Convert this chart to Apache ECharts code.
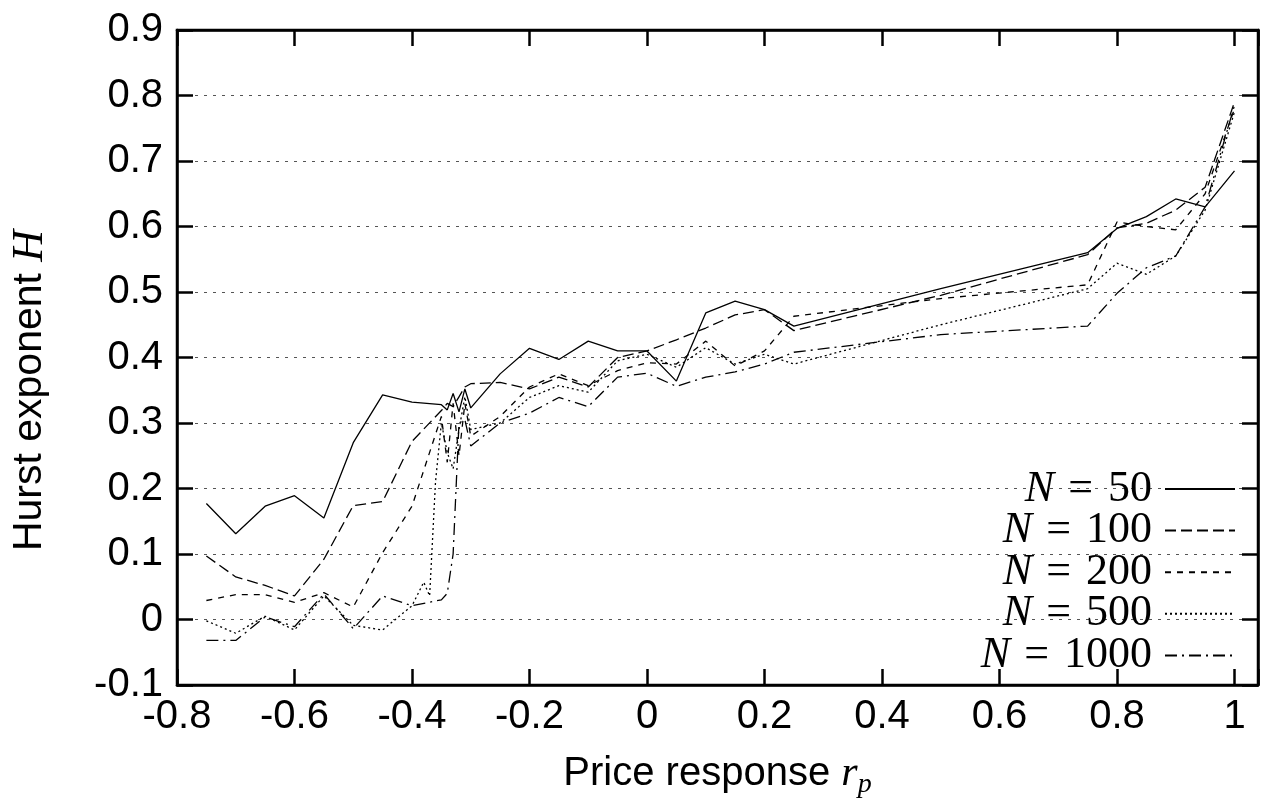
<!DOCTYPE html>
<html><head><meta charset="utf-8">
<script src="https://cdn.jsdelivr.net/npm/echarts@6/dist/echarts.min.js"></script>
<style>html,body{margin:0;padding:0;background:#fff}#c{width:1264px;height:804px}</style>
</head><body><div id="c"></div>
<script>
// ---- data ----
const xN50 = [-0.75,-0.7,-0.65,-0.6,-0.55,-0.5,-0.45,-0.4,-0.35,-0.34,-0.33,-0.32,-0.31,-0.3,-0.25,-0.2,-0.15,-0.1,-0.05,0,0.05,0.1,0.15,0.2,0.25,0.5,0.75,0.8,0.85,0.9,0.95,1.0];
const yN50 = [0.177,0.131,0.173,0.189,0.155,0.27,0.343,0.332,0.328,0.320,0.345,0.317,0.352,0.323,0.375,0.414,0.397,0.425,0.41,0.41,0.364,0.468,0.486,0.473,0.448,0.505,0.560,0.597,0.615,0.642,0.630,0.685];
const xN100 = [-0.75,-0.7,-0.65,-0.6,-0.55,-0.5,-0.45,-0.4,-0.35,-0.34,-0.33,-0.32,-0.31,-0.3,-0.25,-0.2,-0.15,-0.1,-0.05,0,0.05,0.1,0.15,0.2,0.25,0.5,0.75,0.8,0.85,0.9,0.95,1.0];
const yN100 = [0.097,0.065,0.052,0.036,0.092,0.174,0.18,0.272,0.319,0.33,0.325,0.34,0.355,0.36,0.362,0.352,0.37,0.355,0.40,0.41,0.427,0.445,0.465,0.473,0.441,0.495,0.557,0.598,0.605,0.625,0.66,0.79];
const xN200 = [-0.75,-0.7,-0.65,-0.6,-0.55,-0.5,-0.45,-0.4,-0.35,-0.34,-0.33,-0.32,-0.31,-0.3,-0.25,-0.2,-0.15,-0.1,-0.05,0,0.05,0.1,0.15,0.2,0.25,0.5,0.75,0.8,0.85,0.9,0.95,1.0];
const yN200 = [0.029,0.038,0.038,0.026,0.041,0.019,0.102,0.173,0.31,0.24,0.33,0.25,0.33,0.28,0.31,0.355,0.375,0.357,0.38,0.392,0.39,0.425,0.387,0.41,0.463,0.49,0.511,0.607,0.6,0.595,0.65,0.78];
const xN500 = [-0.75,-0.7,-0.65,-0.6,-0.55,-0.5,-0.45,-0.4,-0.38,-0.37,-0.36,-0.35,-0.34,-0.33,-0.32,-0.31,-0.3,-0.25,-0.2,-0.15,-0.1,-0.05,0,0.05,0.1,0.15,0.2,0.25,0.5,0.75,0.8,0.85,0.9,0.95,1.0];
const yN500 = [-0.002,-0.021,0.005,-0.016,0.036,-0.009,-0.016,0.021,0.057,0.036,0.21,0.30,0.255,0.23,0.29,0.34,0.29,0.30,0.339,0.357,0.347,0.395,0.405,0.385,0.415,0.39,0.405,0.39,0.45,0.505,0.544,0.527,0.555,0.625,0.775];
const xN1000 = [-0.75,-0.7,-0.65,-0.6,-0.55,-0.5,-0.45,-0.4,-0.35,-0.34,-0.33,-0.32,-0.31,-0.3,-0.25,-0.2,-0.15,-0.1,-0.05,0,0.05,0.1,0.15,0.2,0.25,0.5,0.75,0.8,0.85,0.9,0.95,1.0];
const yN1000 = [-0.032,-0.032,0.004,-0.011,0.039,-0.014,0.036,0.021,0.03,0.04,0.10,0.30,0.305,0.265,0.30,0.315,0.339,0.325,0.37,0.376,0.356,0.37,0.378,0.39,0.408,0.435,0.448,0.498,0.537,0.555,0.63,0.785];
const seriesNames = ['50','100','200','500','1000'];
const xTickValues = [-0.8,-0.6,-0.4,-0.2,0,0.2,0.4,0.6,0.8,1];

// ---- chart ----
const sans = 'Liberation Sans';
const serif = 'Liberation Serif';
const dashTypes = ['solid', [11,5], [6,6], [2,3], [12,5,2,5]];
const xs = [xN50, xN100, xN200, xN500, xN1000];
const ys = [yN50, yN100, yN200, yN500, yN1000];
function pairs(a, b){ return a.map((x,i)=>[x, b[i]]); }

const chart = echarts.init(document.getElementById('c'), null, {renderer:'canvas'});
const axisLine = {show:true, onZero:false, lineStyle:{color:'#000', width:2.5}};
const axisTick = {show:true, inside:true, length:16, lineStyle:{color:'#000', width:2.5}};

const series = seriesNames.map((n,i)=>({
  name: 'N = ' + n,
  type: 'line',
  data: pairs(xs[i], ys[i]),
  symbol: 'none',
  showSymbol: false,
  lineStyle: {color:'#000', width:1.3, type: dashTypes[i]},
  itemStyle: {color:'#000'},
  animation: false,
  z: 3
}));

chart.setOption({
  animation: false,
  backgroundColor: '#fff',
  textStyle: {fontFamily: sans, color:'#000'},
  grid: {left:174, right:6, top:30, bottom:114, show:true, borderColor:'#000', borderWidth:2.5, backgroundColor:'transparent'},
  legend: {
    orient:'vertical', right:23, top:462, align:'right',
    itemWidth:70, itemHeight:14, itemGap:-2.4, selectedMode:false,
    itemStyle: {opacity:0},
    data: series.map(s=>s.name),
    formatter: name => '{i|N}{e|=}{t|' + name.split('= ')[1] + '}',
    textStyle: {
      lineHeight:39.6,
      rich: {
        i: {fontFamily: serif, fontStyle:'italic', fontSize:44, color:'#000', lineHeight:39.6},
        e: {fontFamily: serif, fontSize:44, color:'#000', lineHeight:39.6, padding:[0,15,0,14]},
        t: {fontFamily: serif, fontSize:44, color:'#000', lineHeight:39.6, padding:[0,8,0,0]}
      }
    }
  },
  xAxis: [{
    type:'value', position:'bottom', min:-0.8, max:1.04, interval:0.2,
    axisLine, axisTick, splitLine:{show:false},
    axisLabel: {
      fontSize:40, fontFamily:sans, color:'#000', margin:12,
      formatter: v => {
        const hit = xTickValues.find(t => Math.abs(t - v) < 1e-6);
        return hit === undefined ? '' : String(hit);
      }
    },
    name: '{a|Price response }{b|r}{c|p}',
    nameLocation:'middle', nameGap:64,
    nameTextStyle: {
      rich: {
        a: {fontFamily:sans, fontSize:40, color:'#000', lineHeight:50},
        b: {fontFamily:serif, fontStyle:'italic', fontSize:42, color:'#000', lineHeight:50},
        c: {fontFamily:serif, fontStyle:'italic', fontSize:28, color:'#000', lineHeight:50, verticalAlign:'bottom'}
      }
    }
  },{
    type:'value', position:'top', min:-0.8, max:1.04, interval:0.2,
    axisLine, axisTick, axisLabel:{show:false}, splitLine:{show:false}
  }],
  yAxis: [{
    type:'value', position:'left', min:-0.1, max:0.9, interval:0.1,
    axisLine, axisTick,
    axisLabel: {fontSize:40, fontFamily:sans, color:'#000', margin:14,
      formatter: v => String(Math.round(v*10)/10)},
    splitLine: {show:true, lineStyle:{color:'#555', width:1, type:[3,6]}},
    name: '{a|Hurst exponent }{b|H}',
    nameLocation:'middle', nameGap:122,
    nameTextStyle: {
      rich: {
        a: {fontFamily:sans, fontSize:41, color:'#000', lineHeight:50},
        b: {fontFamily:serif, fontStyle:'italic', fontSize:44, color:'#000', lineHeight:50, padding:[0,66,0,0]}
      }
    }
  },{
    type:'value', position:'right', min:-0.1, max:0.9, interval:0.1,
    axisLine, axisTick, axisLabel:{show:false}, splitLine:{show:false}
  }],
  series
});
</script>
</body></html>
